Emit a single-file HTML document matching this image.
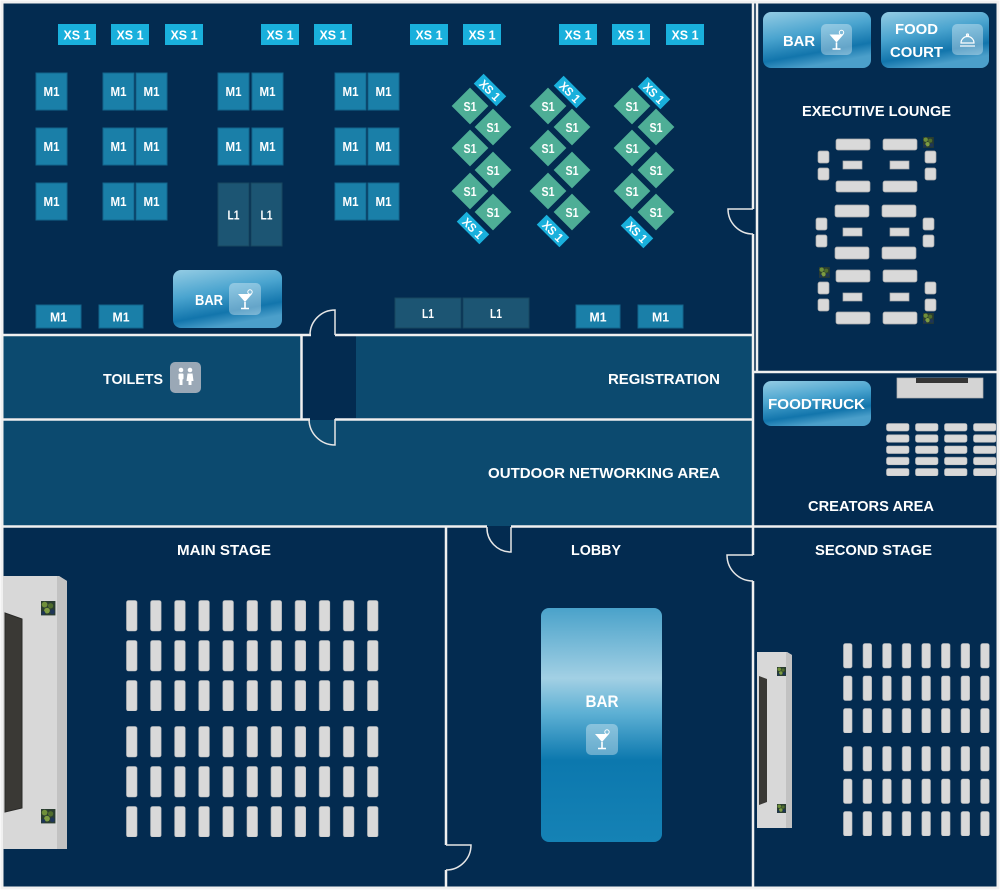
<!DOCTYPE html>
<html><head><meta charset="utf-8">
<style>
html,body{margin:0;padding:0;background:#fff;}
svg{display:block;}
text{font-family:"Liberation Sans",Arial,sans-serif;font-weight:bold;fill:#fff;}
</style></head><body>
<svg width="1000" height="891" viewBox="0 0 1000 891" xmlns="http://www.w3.org/2000/svg">
<defs>
 <linearGradient id="barg" x1="0" y1="0" x2="0.35" y2="1">
  <stop offset="0" stop-color="#94cce4"/>
  <stop offset="0.45" stop-color="#4aa4cf"/>
  <stop offset="0.8" stop-color="#1275ac"/>
  <stop offset="1" stop-color="#4b9fca"/>
 </linearGradient>
 <linearGradient id="lobg" x1="0" y1="0" x2="0" y2="1">
  <stop offset="0" stop-color="#4aa2ca"/>
  <stop offset="0.3" stop-color="#a2d0e4"/>
  <stop offset="0.45" stop-color="#5db0d4"/>
  <stop offset="0.65" stop-color="#0c78ae"/>
  <stop offset="1" stop-color="#1582b5"/>
 </linearGradient>
 <pattern id="pm" patternUnits="userSpaceOnUse" width="24.1" height="40">
  <rect x="0.5" y="0.5" width="10.5" height="30.5" rx="2" fill="#d9d9d9" stroke="#bdbdbd" stroke-width="0.6"/>
 </pattern>
 <pattern id="ps" patternUnits="userSpaceOnUse" width="19.6" height="32.5">
  <rect x="0.5" y="0.5" width="8.5" height="24.5" rx="2" fill="#d9d9d9" stroke="#bdbdbd" stroke-width="0.6"/>
 </pattern>
 <pattern id="pc" patternUnits="userSpaceOnUse" width="29" height="11.25">
  <rect x="0.5" y="0.5" width="22.5" height="7.5" rx="2" fill="#d9d9d9" stroke="#bdbdbd" stroke-width="0.6"/>
 </pattern>
 <g id="cock">
  <path d="M-7,-6 L7,-6 L0,2 Z" fill="#fff"/>
  <path d="M0,2 V8 M-4,8.5 H4" stroke="#fff" stroke-width="1.6" fill="none"/>
  <circle cx="5" cy="-8" r="2.2" fill="none" stroke="#fff" stroke-width="1"/>
 </g>
 <g id="plant">
  <rect x="0" y="0" width="12" height="12" fill="#2a3d30"/>
  <circle cx="3" cy="3" r="2.4" fill="#6f8f3a"/>
  <circle cx="8" cy="4" r="2.2" fill="#4f6d2c"/>
  <circle cx="5" cy="8" r="2.4" fill="#7d9c42"/>
  <circle cx="9.5" cy="9" r="2" fill="#1e3557"/>
  <circle cx="2" cy="10" r="1.6" fill="#1e3557"/>
 </g>
</defs>

<!-- background -->
<rect x="0" y="0" width="1000" height="891" fill="#ffffff"/>
<rect x="3" y="3" width="994" height="885" fill="#032b50"/>

<!-- middle band -->
<rect x="3" y="336" width="298" height="82" fill="#0c4a6f"/>
<rect x="356" y="336" width="397" height="82" fill="#0c4a6f"/>
<rect x="3" y="420" width="750" height="106" fill="#0c4a6f"/>

<!-- walls -->
<g stroke="#f0f0f0" stroke-width="2.5" fill="none">
 <rect x="2" y="2" width="996" height="886" stroke-width="3"/>
 <path d="M753,2 V209 M753,234 V555 M753,581 V888"/>
 <path d="M757,2 V372"/>
 <path d="M3,335 H311 M335,335 H753"/>
 <path d="M301.5,335 V419"/>
 <path d="M3,419.5 H310 M335,419.5 H753"/>
 <path d="M3,526.5 H487 M511,526.5 H998"/>
 <path d="M446,526 V845 M446,870 V888"/>
 <path d="M753,372 H998"/>
</g>
<!-- doors -->
<g stroke="#e6e6e6" stroke-width="1.5" fill="none">
 <path d="M753,209 H728 A25,25 0 0 0 753,234"/>
 <path d="M335,335 V310 A25,25 0 0 0 310,335"/>
 <path d="M335,419 V445 A26,26 0 0 1 309,419"/>
 <path d="M511,527 V552 A24,24 0 0 1 487,527"/>
 <path d="M753,555 H727 A26,26 0 0 0 753,581"/>
 <path d="M446,845 H471 A25,25 0 0 1 446,870"/>
</g>

<!-- XS1 top row -->
<g fill="#19b0dc">
 <rect x="58" y="24" width="38" height="21"/>
 <rect x="111" y="24" width="38" height="21"/>
 <rect x="165" y="24" width="38" height="21"/>
 <rect x="261" y="24" width="38" height="21"/>
 <rect x="314" y="24" width="38" height="21"/>
 <rect x="410" y="24" width="38" height="21"/>
 <rect x="463" y="24" width="38" height="21"/>
 <rect x="559" y="24" width="38" height="21"/>
 <rect x="612" y="24" width="38" height="21"/>
 <rect x="666" y="24" width="38" height="21"/>
</g>
<g font-size="13" text-anchor="middle">
 <text x="77" y="39.5" textLength="27" lengthAdjust="spacingAndGlyphs">XS 1</text>
 <text x="130" y="39.5" textLength="27" lengthAdjust="spacingAndGlyphs">XS 1</text>
 <text x="184" y="39.5" textLength="27" lengthAdjust="spacingAndGlyphs">XS 1</text>
 <text x="280" y="39.5" textLength="27" lengthAdjust="spacingAndGlyphs">XS 1</text>
 <text x="333" y="39.5" textLength="27" lengthAdjust="spacingAndGlyphs">XS 1</text>
 <text x="429" y="39.5" textLength="27" lengthAdjust="spacingAndGlyphs">XS 1</text>
 <text x="482" y="39.5" textLength="27" lengthAdjust="spacingAndGlyphs">XS 1</text>
 <text x="578" y="39.5" textLength="27" lengthAdjust="spacingAndGlyphs">XS 1</text>
 <text x="631" y="39.5" textLength="27" lengthAdjust="spacingAndGlyphs">XS 1</text>
 <text x="685" y="39.5" textLength="27" lengthAdjust="spacingAndGlyphs">XS 1</text>
</g>

<!-- M1 grid -->
<g fill="#1a7fa8" stroke="#13668c" stroke-width="1">
 <rect x="36" y="73" width="31" height="37"/>
 <rect x="103" y="73" width="31" height="37"/>
 <rect x="136" y="73" width="31" height="37"/>
 <rect x="218" y="73" width="31" height="37"/>
 <rect x="252" y="73" width="31" height="37"/>
 <rect x="335" y="73" width="31" height="37"/>
 <rect x="368" y="73" width="31" height="37"/>
 <rect x="36" y="128" width="31" height="37"/>
 <rect x="103" y="128" width="31" height="37"/>
 <rect x="136" y="128" width="31" height="37"/>
 <rect x="218" y="128" width="31" height="37"/>
 <rect x="252" y="128" width="31" height="37"/>
 <rect x="335" y="128" width="31" height="37"/>
 <rect x="368" y="128" width="31" height="37"/>
 <rect x="36" y="183" width="31" height="37"/>
 <rect x="103" y="183" width="31" height="37"/>
 <rect x="136" y="183" width="31" height="37"/>
 <rect x="335" y="183" width="31" height="37"/>
 <rect x="368" y="183" width="31" height="37"/>
 <rect x="36" y="305" width="45" height="23"/>
 <rect x="99" y="305" width="44" height="23"/>
 <rect x="576" y="305" width="44" height="23"/>
 <rect x="638" y="305" width="45" height="23"/>
</g>
<g fill="#1c5573" stroke="#17475f" stroke-width="1">
 <rect x="218" y="183" width="31" height="63"/>
 <rect x="251" y="183" width="31" height="63"/>
 <rect x="395" y="298" width="66" height="30"/>
 <rect x="463" y="298" width="66" height="30"/>
</g>
<g font-size="13" text-anchor="middle">
 <text x="51.5" y="96" textLength="16" lengthAdjust="spacingAndGlyphs">M1</text>
 <text x="118.5" y="96" textLength="16" lengthAdjust="spacingAndGlyphs">M1</text>
 <text x="151.5" y="96" textLength="16" lengthAdjust="spacingAndGlyphs">M1</text>
 <text x="233.5" y="96" textLength="16" lengthAdjust="spacingAndGlyphs">M1</text>
 <text x="267.5" y="96" textLength="16" lengthAdjust="spacingAndGlyphs">M1</text>
 <text x="350.5" y="96" textLength="16" lengthAdjust="spacingAndGlyphs">M1</text>
 <text x="383.5" y="96" textLength="16" lengthAdjust="spacingAndGlyphs">M1</text>
 <text x="51.5" y="151" textLength="16" lengthAdjust="spacingAndGlyphs">M1</text>
 <text x="118.5" y="151" textLength="16" lengthAdjust="spacingAndGlyphs">M1</text>
 <text x="151.5" y="151" textLength="16" lengthAdjust="spacingAndGlyphs">M1</text>
 <text x="233.5" y="151" textLength="16" lengthAdjust="spacingAndGlyphs">M1</text>
 <text x="267.5" y="151" textLength="16" lengthAdjust="spacingAndGlyphs">M1</text>
 <text x="350.5" y="151" textLength="16" lengthAdjust="spacingAndGlyphs">M1</text>
 <text x="383.5" y="151" textLength="16" lengthAdjust="spacingAndGlyphs">M1</text>
 <text x="51.5" y="206" textLength="16" lengthAdjust="spacingAndGlyphs">M1</text>
 <text x="118.5" y="206" textLength="16" lengthAdjust="spacingAndGlyphs">M1</text>
 <text x="151.5" y="206" textLength="16" lengthAdjust="spacingAndGlyphs">M1</text>
 <text x="350.5" y="206" textLength="16" lengthAdjust="spacingAndGlyphs">M1</text>
 <text x="383.5" y="206" textLength="16" lengthAdjust="spacingAndGlyphs">M1</text>
 <text x="233.5" y="219.5" textLength="12" lengthAdjust="spacingAndGlyphs">L1</text>
 <text x="266.5" y="219.5" textLength="12" lengthAdjust="spacingAndGlyphs">L1</text>
 <text x="428" y="318" textLength="12" lengthAdjust="spacingAndGlyphs">L1</text>
 <text x="496" y="318" textLength="12" lengthAdjust="spacingAndGlyphs">L1</text>
 <text x="58.5" y="321.5" textLength="17" lengthAdjust="spacingAndGlyphs">M1</text>
 <text x="121" y="321.5" textLength="17" lengthAdjust="spacingAndGlyphs">M1</text>
 <text x="598" y="321.5" textLength="17" lengthAdjust="spacingAndGlyphs">M1</text>
 <text x="660.5" y="321.5" textLength="17" lengthAdjust="spacingAndGlyphs">M1</text>
</g>

<!-- S1 diamonds -->
<g fill="#4eae96" stroke="#032b50" stroke-width="1">
 <rect x="-13.5" y="-13.5" width="27" height="27" transform="translate(470,106) rotate(45)"/>
 <rect x="-13.5" y="-13.5" width="27" height="27" transform="translate(493,127) rotate(45)"/>
 <rect x="-13.5" y="-13.5" width="27" height="27" transform="translate(470,148) rotate(45)"/>
 <rect x="-13.5" y="-13.5" width="27" height="27" transform="translate(493,170) rotate(45)"/>
 <rect x="-13.5" y="-13.5" width="27" height="27" transform="translate(470,191) rotate(45)"/>
 <rect x="-13.5" y="-13.5" width="27" height="27" transform="translate(493,212) rotate(45)"/>
 <rect x="-13.5" y="-13.5" width="27" height="27" transform="translate(548,106) rotate(45)"/>
 <rect x="-13.5" y="-13.5" width="27" height="27" transform="translate(572,127) rotate(45)"/>
 <rect x="-13.5" y="-13.5" width="27" height="27" transform="translate(548,148) rotate(45)"/>
 <rect x="-13.5" y="-13.5" width="27" height="27" transform="translate(572,170) rotate(45)"/>
 <rect x="-13.5" y="-13.5" width="27" height="27" transform="translate(548,191) rotate(45)"/>
 <rect x="-13.5" y="-13.5" width="27" height="27" transform="translate(572,212) rotate(45)"/>
 <rect x="-13.5" y="-13.5" width="27" height="27" transform="translate(632,106) rotate(45)"/>
 <rect x="-13.5" y="-13.5" width="27" height="27" transform="translate(656,127) rotate(45)"/>
 <rect x="-13.5" y="-13.5" width="27" height="27" transform="translate(632,148) rotate(45)"/>
 <rect x="-13.5" y="-13.5" width="27" height="27" transform="translate(656,170) rotate(45)"/>
 <rect x="-13.5" y="-13.5" width="27" height="27" transform="translate(632,191) rotate(45)"/>
 <rect x="-13.5" y="-13.5" width="27" height="27" transform="translate(656,212) rotate(45)"/>
</g>
<g font-size="13" text-anchor="middle">
 <text x="470" y="111" textLength="13" lengthAdjust="spacingAndGlyphs">S1</text>
 <text x="493" y="132" textLength="13" lengthAdjust="spacingAndGlyphs">S1</text>
 <text x="470" y="153" textLength="13" lengthAdjust="spacingAndGlyphs">S1</text>
 <text x="493" y="175" textLength="13" lengthAdjust="spacingAndGlyphs">S1</text>
 <text x="470" y="196" textLength="13" lengthAdjust="spacingAndGlyphs">S1</text>
 <text x="493" y="217" textLength="13" lengthAdjust="spacingAndGlyphs">S1</text>
 <text x="548" y="111" textLength="13" lengthAdjust="spacingAndGlyphs">S1</text>
 <text x="572" y="132" textLength="13" lengthAdjust="spacingAndGlyphs">S1</text>
 <text x="548" y="153" textLength="13" lengthAdjust="spacingAndGlyphs">S1</text>
 <text x="572" y="175" textLength="13" lengthAdjust="spacingAndGlyphs">S1</text>
 <text x="548" y="196" textLength="13" lengthAdjust="spacingAndGlyphs">S1</text>
 <text x="572" y="217" textLength="13" lengthAdjust="spacingAndGlyphs">S1</text>
 <text x="632" y="111" textLength="13" lengthAdjust="spacingAndGlyphs">S1</text>
 <text x="656" y="132" textLength="13" lengthAdjust="spacingAndGlyphs">S1</text>
 <text x="632" y="153" textLength="13" lengthAdjust="spacingAndGlyphs">S1</text>
 <text x="656" y="175" textLength="13" lengthAdjust="spacingAndGlyphs">S1</text>
 <text x="632" y="196" textLength="13" lengthAdjust="spacingAndGlyphs">S1</text>
 <text x="656" y="217" textLength="13" lengthAdjust="spacingAndGlyphs">S1</text>
</g>

<!-- rotated XS tags -->
<g transform="translate(490,90) rotate(45)"><rect x="-16" y="-7" width="32" height="14" fill="#19b0dc"/><text x="0" y="4.5" font-size="12" text-anchor="middle" textLength="24" lengthAdjust="spacingAndGlyphs">XS 1</text></g>
<g transform="translate(473,228) rotate(45)"><rect x="-16" y="-7" width="32" height="14" fill="#19b0dc"/><text x="0" y="4.5" font-size="12" text-anchor="middle" textLength="24" lengthAdjust="spacingAndGlyphs">XS 1</text></g>
<g transform="translate(570,92) rotate(45)"><rect x="-16" y="-7" width="32" height="14" fill="#19b0dc"/><text x="0" y="4.5" font-size="12" text-anchor="middle" textLength="24" lengthAdjust="spacingAndGlyphs">XS 1</text></g>
<g transform="translate(553,231) rotate(45)"><rect x="-16" y="-7" width="32" height="14" fill="#19b0dc"/><text x="0" y="4.5" font-size="12" text-anchor="middle" textLength="24" lengthAdjust="spacingAndGlyphs">XS 1</text></g>
<g transform="translate(654,93) rotate(45)"><rect x="-16" y="-7" width="32" height="14" fill="#19b0dc"/><text x="0" y="4.5" font-size="12" text-anchor="middle" textLength="24" lengthAdjust="spacingAndGlyphs">XS 1</text></g>
<g transform="translate(637,232) rotate(45)"><rect x="-16" y="-7" width="32" height="14" fill="#19b0dc"/><text x="0" y="4.5" font-size="12" text-anchor="middle" textLength="24" lengthAdjust="spacingAndGlyphs">XS 1</text></g>

<!-- top-left BAR -->
<rect x="173" y="270" width="109" height="58" rx="8" fill="url(#barg)"/>
<rect x="229" y="283" width="32" height="32" rx="5" fill="#ffffff" fill-opacity="0.35"/>
<use href="#cock" transform="translate(245,300)"/>
<text x="195" y="305" font-size="15" textLength="28" lengthAdjust="spacingAndGlyphs">BAR</text>

<!-- Exec lounge -->
<rect x="763" y="12" width="108" height="56" rx="8" fill="url(#barg)"/>
<rect x="821" y="24" width="31" height="31" rx="5" fill="#ffffff" fill-opacity="0.35"/>
<use href="#cock" transform="translate(836.5,40.5)"/>
<text x="783" y="46" font-size="15" textLength="32" lengthAdjust="spacingAndGlyphs">BAR</text>
<rect x="881" y="12" width="108" height="56" rx="8" fill="url(#barg)"/>
<rect x="952" y="24" width="31" height="31" rx="5" fill="#ffffff" fill-opacity="0.35"/>
<g stroke="#fff" stroke-width="1.2" fill="none">
 <path d="M961,43 A6.5,6.5 0 0 1 974,43 Z"/>
 <path d="M960,46 H975"/>
 <circle cx="967.5" cy="35" r="1"/>
</g>
<text x="895" y="34" font-size="15" textLength="43" lengthAdjust="spacingAndGlyphs">FOOD</text>
<text x="890" y="57" font-size="15" textLength="53" lengthAdjust="spacingAndGlyphs">COURT</text>
<text x="802" y="116" font-size="15" textLength="149" lengthAdjust="spacingAndGlyphs">EXECUTIVE LOUNGE</text>

<g fill="#d9d9d9" stroke="#a9a9a9" stroke-width="0.7">
 <rect x="836" y="139" width="34" height="11" rx="2"/>
 <rect x="883" y="139" width="34" height="11" rx="2"/>
 <rect x="843" y="161" width="19" height="8"/>
 <rect x="890" y="161" width="19" height="8"/>
 <rect x="836" y="181" width="34" height="11" rx="2"/>
 <rect x="883" y="181" width="34" height="11" rx="2"/>
 <rect x="818" y="151" width="11" height="12" rx="2"/>
 <rect x="818" y="168" width="11" height="12" rx="2"/>
 <rect x="925" y="151" width="11" height="12" rx="2"/>
 <rect x="925" y="168" width="11" height="12" rx="2"/>

 <rect x="835" y="205" width="34" height="12" rx="2"/>
 <rect x="882" y="205" width="34" height="12" rx="2"/>
 <rect x="843" y="228" width="19" height="8"/>
 <rect x="890" y="228" width="19" height="8"/>
 <rect x="835" y="247" width="34" height="12" rx="2"/>
 <rect x="882" y="247" width="34" height="12" rx="2"/>
 <rect x="816" y="218" width="11" height="12" rx="2"/>
 <rect x="816" y="235" width="11" height="12" rx="2"/>
 <rect x="923" y="218" width="11" height="12" rx="2"/>
 <rect x="923" y="235" width="11" height="12" rx="2"/>

 <rect x="836" y="270" width="34" height="12" rx="2"/>
 <rect x="883" y="270" width="34" height="12" rx="2"/>
 <rect x="843" y="293" width="19" height="8"/>
 <rect x="890" y="293" width="19" height="8"/>
 <rect x="836" y="312" width="34" height="12" rx="2"/>
 <rect x="883" y="312" width="34" height="12" rx="2"/>
 <rect x="818" y="282" width="11" height="12" rx="2"/>
 <rect x="818" y="299" width="11" height="12" rx="2"/>
 <rect x="925" y="282" width="11" height="12" rx="2"/>
 <rect x="925" y="299" width="11" height="12" rx="2"/>
</g>
<use href="#plant" transform="translate(923,137) scale(0.9)"/>
<use href="#plant" transform="translate(819,267) scale(0.9)"/>
<use href="#plant" transform="translate(923,313) scale(0.9)"/>

<!-- Middle labels -->
<text x="103" y="384" font-size="15" textLength="60" lengthAdjust="spacingAndGlyphs">TOILETS</text>
<rect x="170" y="362" width="31" height="31" rx="5" fill="#9aa8b6"/>
<g fill="#fff">
 <circle cx="181" cy="370" r="2.3"/>
 <circle cx="190" cy="370" r="2.3"/>
 <rect x="178.5" y="373.5" width="5" height="6" rx="1"/>
 <rect x="179.5" y="379" width="3" height="6"/>
 <path d="M187.5,373.5 H192.5 L193.5,381 H186.5 Z"/>
 <rect x="188.5" y="380" width="3" height="5"/>
</g>
<text x="608" y="384" font-size="15" textLength="112" lengthAdjust="spacingAndGlyphs">REGISTRATION</text>
<text x="488" y="478" font-size="15" textLength="232" lengthAdjust="spacingAndGlyphs">OUTDOOR NETWORKING AREA</text>

<!-- Creators area -->
<rect x="763" y="381" width="108" height="45" rx="8" fill="url(#barg)"/>
<text x="768" y="409" font-size="15" textLength="97" lengthAdjust="spacingAndGlyphs">FOODTRUCK</text>
<rect x="897" y="378" width="86" height="20" fill="#d4d4d4" stroke="#b0b0b0" stroke-width="0.7"/>
<rect x="916" y="378" width="52" height="5" fill="#353535"/>
<g transform="translate(886,423)"><rect width="110" height="53" fill="url(#pc)"/></g>
<text x="808" y="511" font-size="15" textLength="126" lengthAdjust="spacingAndGlyphs">CREATORS AREA</text>

<!-- Stage labels -->
<text x="177" y="555" font-size="15" textLength="94" lengthAdjust="spacingAndGlyphs">MAIN STAGE</text>
<text x="571" y="555" font-size="15" textLength="50" lengthAdjust="spacingAndGlyphs">LOBBY</text>
<text x="815" y="555" font-size="15" textLength="117" lengthAdjust="spacingAndGlyphs">SECOND STAGE</text>

<!-- Main stage block -->
<polygon points="3,576 59,576 67,581 67,849 3,849" fill="#d8d8d8"/>
<polygon points="57,576 59,576 67,581 67,849 57,849" fill="#c2c2c2"/>
<polygon points="5,613 22,619 22,808 5,812" fill="#3a3935" stroke="#2a2a28" stroke-width="1"/>
<use href="#plant" transform="translate(41,601) scale(1.2)"/>
<use href="#plant" transform="translate(41,809) scale(1.2)"/>
<g transform="translate(126,600)"><rect width="253" height="111" fill="url(#pm)"/></g>
<g transform="translate(126,726)"><rect width="253" height="111" fill="url(#pm)"/></g>

<!-- Lobby bar -->
<rect x="541" y="608" width="121" height="234" rx="8" fill="url(#lobg)"/>
<text x="602" y="707" font-size="17" text-anchor="middle" textLength="33" lengthAdjust="spacingAndGlyphs">BAR</text>
<rect x="586" y="724" width="32" height="31" rx="5" fill="#ffffff" fill-opacity="0.35"/>
<use href="#cock" transform="translate(602,740)"/>

<!-- Second stage block -->
<polygon points="757,652 787,652 792,655 792,828 757,828" fill="#d8d8d8"/>
<polygon points="786,652 787,652 792,655 792,828 786,828" fill="#c2c2c2"/>
<polygon points="759,676 767,679 767,802 759,805" fill="#3a3935"/>
<use href="#plant" transform="translate(777,667) scale(0.75)"/>
<use href="#plant" transform="translate(777,804) scale(0.75)"/>
<g transform="translate(843,643)"><rect width="147" height="90" fill="url(#ps)"/></g>
<g transform="translate(843,746)"><rect width="147" height="90" fill="url(#ps)"/></g>
</svg>
</body></html>
